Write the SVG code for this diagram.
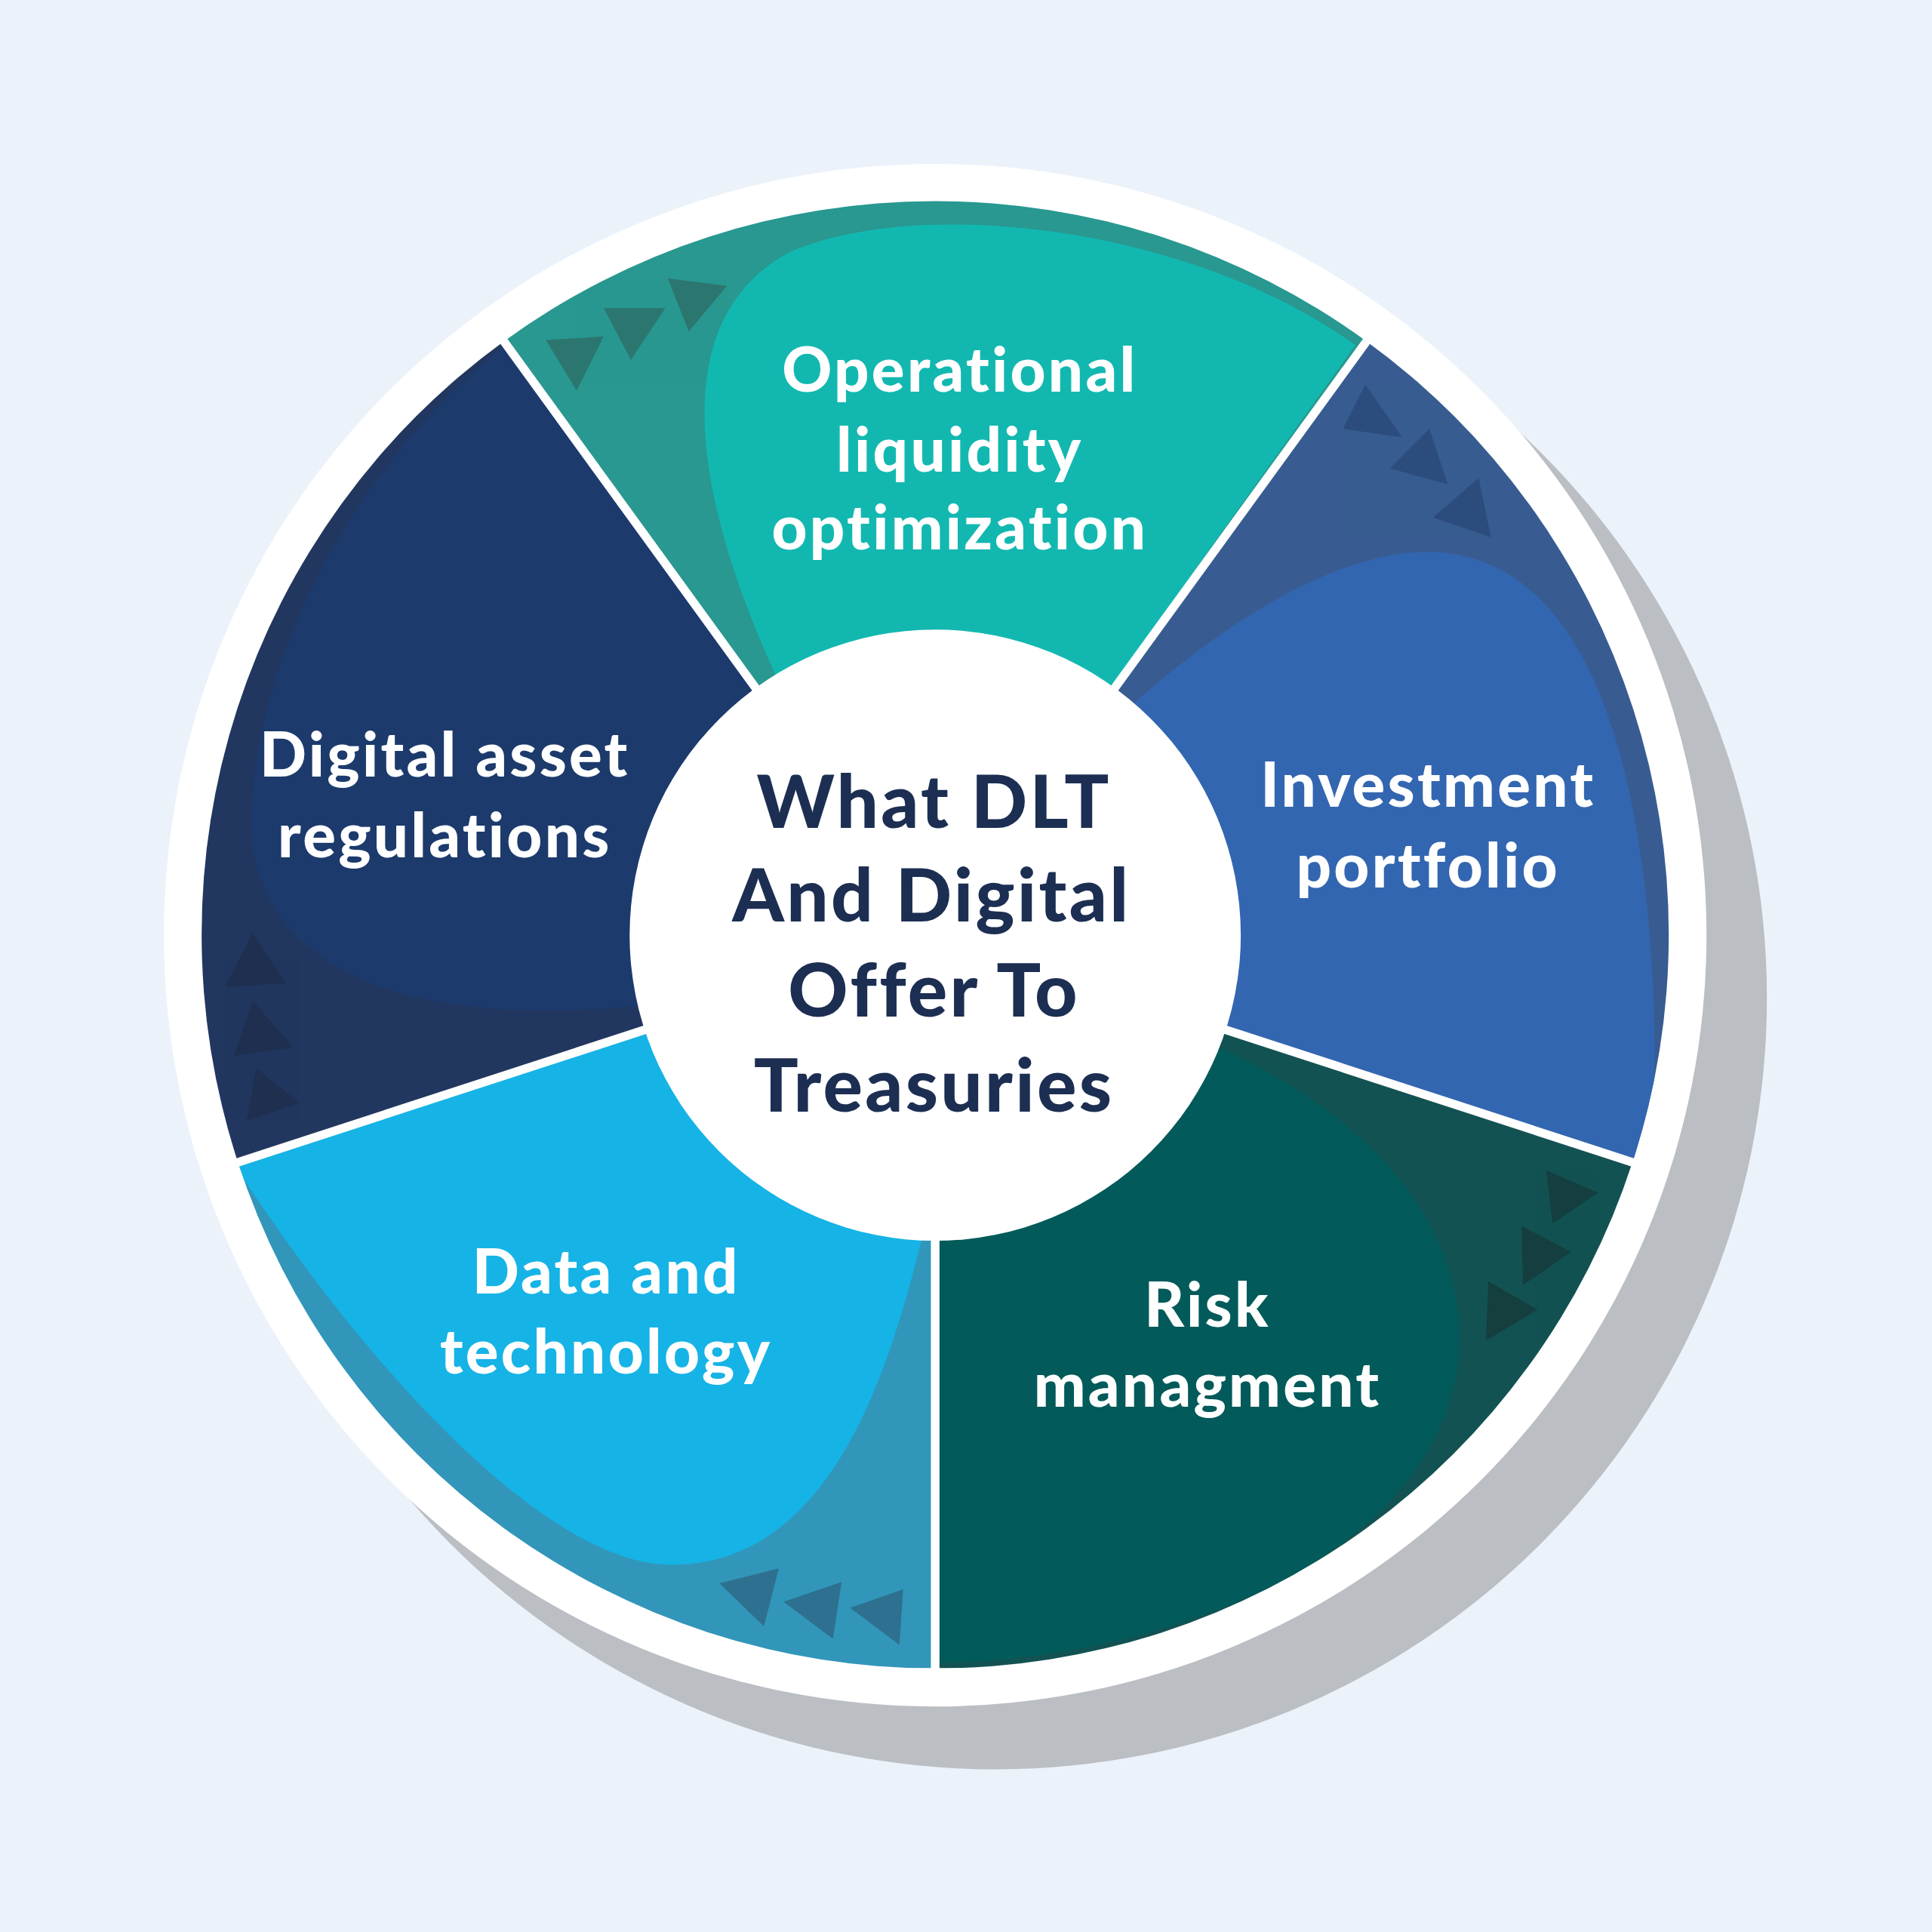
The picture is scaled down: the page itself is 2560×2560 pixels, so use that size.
<svg xmlns="http://www.w3.org/2000/svg" width="2560" height="2560" viewBox="0 0 2560 2560">
<defs>
<style>
.lbl{font-family:Lato,"Noto Sans",sans-serif;font-weight:900;fill:#fff;font-size:50px;text-anchor:middle;letter-spacing:2px;font-variant-ligatures:none}
.ctr{font-family:Lato,"Noto Sans",sans-serif;font-weight:900;fill:#1C2E52;font-size:60px;text-anchor:middle;letter-spacing:2px;font-variant-ligatures:none}
.sep{stroke:#fff;stroke-width:7}
</style>
<clipPath id="c1"><path d="M759,759 L409,277 A595,595 0 0 1 1109,277 Z"/></clipPath>
<clipPath id="c2"><path d="M759,759 L1109,277 A595,595 0 0 1 1325,943 Z"/></clipPath>
<clipPath id="c3"><path d="M759,759 L1325,943 A595,595 0 0 1 759,1354 Z"/></clipPath>
<clipPath id="c4"><path d="M759,759 L759,1354 A595,595 0 0 1 193,943 Z"/></clipPath>
<clipPath id="c5"><path d="M759,759 L193,943 A595,595 0 0 1 409,277 Z"/></clipPath>
</defs>
<rect width="2560" height="2560" fill="#EBF2FA"/>
<g transform="scale(1.63265)">
<circle cx="808" cy="810" r="626" fill="#BBBEC3"/>
<circle cx="759" cy="759" r="626" fill="#fff"/>
<g id="seg-top" clip-path="url(#c1)">
<rect x="0" y="0" width="1568" height="1568" fill="#289890"/>
<path d="M635,560 C560,400 540,260 640,205 C740,160 960,180 1100,280 L900,560 Z" fill="#12B8B0"/>
<g fill="#2E6E68" opacity="0.8"><polygon points="443,276 490,273 468,317"/><polygon points="490,250 540,250 512,292"/><polygon points="542,226 590,232 559,269"/></g>
</g>
<g id="seg-right" clip-path="url(#c2)">
<rect x="0" y="0" width="1568" height="1568" fill="#385C91"/>
<path d="M915,575 C1000,500 1090,445 1165,448 C1300,455 1340,650 1343,850 L1340,960 L990,830 Z" fill="#3366B0"/>
<g fill="#2B4B7C" opacity="0.9"><polygon points="1108,312 1138,355 1090,348"/><polygon points="1160,348 1175,393 1128,380"/><polygon points="1200,388 1210,436 1163,420"/></g>
</g>
<g id="seg-br" clip-path="url(#c3)">
<rect x="0" y="0" width="1568" height="1568" fill="#135252"/>
<path d="M990,850 C1140,920 1195,1020 1183,1110 C1160,1260 960,1345 760,1350 L760,1000 Z" fill="#035A5A"/>
<g fill="#163C3E" opacity="0.9"><polygon points="1255,950 1297,968 1260,993"/><polygon points="1235,995 1275,1016 1236,1043"/><polygon points="1208,1040 1248,1063 1206,1088"/></g>
</g>
<g id="seg-bl" clip-path="url(#c4)">
<rect x="0" y="0" width="1568" height="1568" fill="#3196BA"/>
<path d="M185,945 L560,820 L752,990 C725,1100 680,1270 545,1270 C440,1270 290,1100 190,945 Z" fill="#16B3E6"/>
<g fill="#2E6785" opacity="0.8"><polygon points="584,1285 632,1273 620,1320"/><polygon points="636,1300 683,1284 676,1330"/><polygon points="690,1305 733,1290 730,1335"/></g>
</g>
<g id="seg-left" clip-path="url(#c5)">
<rect x="0" y="0" width="1568" height="1568" fill="#22375F"/>
<path d="M410,280 C260,400 195,580 205,690 C230,820 400,830 530,815 L620,560 Z" fill="#1C3A6C"/>
<g fill="#1F2F4E" opacity="0.9"><polygon points="205,757 232,798 183,801"/><polygon points="205,812 238,850 190,857"/><polygon points="208,867 243,895 200,910"/></g>
</g>
<g id="connectors">
<line class="sep" x1="759" y1="759" x2="406" y2="273"/>
<line class="sep" x1="759" y1="759" x2="1112" y2="273"/>
<line class="sep" x1="759" y1="759" x2="1330" y2="945"/>
<line class="sep" x1="759" y1="759" x2="188" y2="945"/>
<line class="sep" x1="759" y1="759" x2="759" y2="1360"/>
</g>
<g id="center"><circle cx="759" cy="759" r="248" fill="#fff"/>
<text class="ctr" x="758" y="672">What DLT</text>
<text class="ctr" x="756" y="748">And Digital</text>
<text class="ctr" x="758" y="825">Offer To</text>
<text class="ctr" x="758" y="902">Treasuries</text></g>
<g id="labels">
<text class="lbl" x="779" y="318">Operational</text>
<text class="lbl" x="779" y="383">liquidity</text>
<text class="lbl" x="779" y="446">optimization</text>
<text class="lbl" x="361" y="630">Digital asset</text>
<text class="lbl" x="361" y="696">regulations</text>
<text class="lbl" x="1159" y="655">Investment</text>
<text class="lbl" x="1159" y="720">portfolio</text>
<text class="lbl" x="492" y="1050">Data and</text>
<text class="lbl" x="492" y="1115">technology</text>
<text class="lbl" x="980" y="1077">Risk</text>
<text class="lbl" x="980" y="1142">managment</text>
</g>
</g>
</svg>
